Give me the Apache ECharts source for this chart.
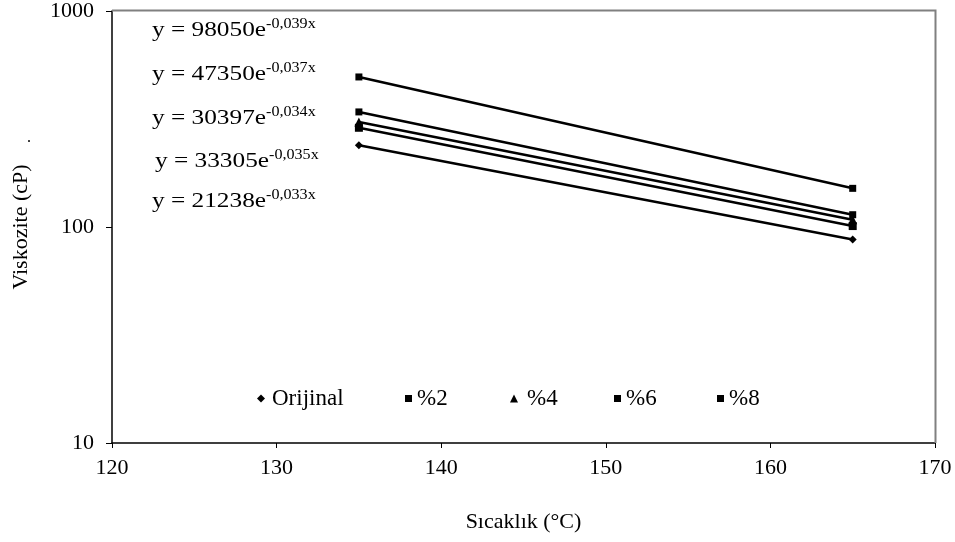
<!DOCTYPE html>
<html>
<head>
<meta charset="utf-8">
<script src="https://cdn.jsdelivr.net/npm/echarts@6/dist/echarts.min.js"></script>
<style>html,body{margin:0;padding:0;background:#fff}#c{width:955px;height:542px}</style>
</head>
<body>
<div id="c"></div>
<script>
const temps = [135, 165];
const orijinal = [239, 87.5];
const p2 = [288, 101];
const p4 = [306, 108];
const p6 = [341, 114];
const p8 = [495, 151];
const seriesNames = ['Orijinal', '%2', '%4', '%6', '%8'];
const eqBase = ['y = 98050e', 'y = 47350e', 'y = 30397e', 'y = 33305e', 'y = 21238e'];
const eqExp = ['-0,039x', '-0,037x', '-0,034x', '-0,035x', '-0,033x'];
const xTicks = [120, 130, 140, 150, 160, 170];

const FONT = '"Liberation Serif", "Times New Roman", serif';
const chart = echarts.init(document.getElementById('c'), null, {renderer: 'canvas'});

function pairs(vals) { return temps.map((t, i) => [t, vals[i]]); }

const symbols = ['diamond', 'rect', 'triangle', 'rect', 'rect'];
const symSizes = [8, 8, 9, 7, 7];
const allVals = [orijinal, p2, p4, p6, p8];

const series = seriesNames.map((n, i) => ({
  name: n,
  type: 'line',
  data: pairs(allVals[i]),
  symbol: symbols[i],
  symbolSize: symSizes[i],
  showSymbol: true,
  lineStyle: {color: '#000', width: 2.5},
  itemStyle: {color: '#000'},
  animation: false,
  z: 3
}));

const legendLeft = [252, 400, 505, 609, 712];
const legendPad = [2, 0, 4, 0, 0];
const legendIcon = ['diamond', 'rect', 'triangle', 'rect', 'rect'];
const legendSize = [8, 7, 8, 7, 7];
const legends = seriesNames.map((n, i) => ({
  data: [{name: n, icon: legendIcon[i]}],
  left: legendLeft[i],
  top: 382,
  itemWidth: legendSize[i],
  itemHeight: legendSize[i],
  selectedMode: false,
  itemStyle: {color: '#000'},
  textStyle: {fontFamily: FONT, fontSize: 23, color: '#000', padding: [0, 0, 0, legendPad[i]]}
}));

const eqTops = [29, 73, 117, 160, 200];
const eqLefts = [152, 152, 152, 155, 152];
const graphics = eqBase.map((b, i) => ({
  type: 'text',
  x: eqLefts[i],
  y: eqTops[i],
  scaleX: 1.15,
  style: {
    text: '{b|' + b + '}{s|' + eqExp[i] + '}',
    verticalAlign: 'middle',
    rich: {
      b: {fontFamily: FONT, fontSize: 22, lineHeight: 24, fill: '#000', verticalAlign: 'bottom'},
      s: {fontFamily: FONT, fontSize: 14, lineHeight: 14, fill: '#000', verticalAlign: 'top'}
    }
  },
  z: 10
}));
graphics.push({
  type: 'text', x: 27, y: 130,
  style: {text: '.', fontFamily: FONT, fontSize: 16, fill: '#000'}
});
// grey frame top/right
graphics.push({
  type: 'polyline',
  shape: {points: [[112, 10.5], [935.5, 10.5], [935.5, 443]]},
  style: {stroke: '#808080', lineWidth: 2, fill: null},
  z: 1
});

chart.setOption({
  backgroundColor: '#fff',
  animation: false,
  grid: {left: 112, right: 20, top: 11, bottom: 99, containLabel: false},
  xAxis: {
    type: 'value',
    min: 120, max: 170, interval: 10,
    name: 'Sıcaklık (°C)',
    nameLocation: 'middle',
    nameGap: 68,
    nameTextStyle: {fontFamily: FONT, fontSize: 22, color: '#000'},
    axisLine: {onZero: false, lineStyle: {color: '#000', width: 1.5}},
    axisTick: {show: true, length: 5, lineStyle: {color: '#000'}},
    axisLabel: {fontFamily: FONT, fontSize: 22, color: '#000', margin: 14,
      formatter: v => xTicks.includes(v) ? String(v) : ''},
    splitLine: {show: false}
  },
  yAxis: {
    type: 'log',
    logBase: 10,
    min: 10, max: 1000,
    name: 'Viskozite (cP)',
    nameLocation: 'middle',
    nameGap: 80,
    nameRotate: 90,
    nameTextStyle: {fontFamily: FONT, fontSize: 22, color: '#000'},
    axisLine: {show: true, lineStyle: {color: '#000', width: 1.5}},
    axisTick: {show: true, length: 6, lineStyle: {color: '#000'}},
    axisLabel: {fontFamily: FONT, fontSize: 22, color: '#000', margin: 18,
      formatter: v => String(Math.round(v))},
    splitLine: {show: false},
    minorTick: {show: false}
  },
  legend: legends,
  graphic: graphics,
  series: series
});
</script>
</body>
</html>
